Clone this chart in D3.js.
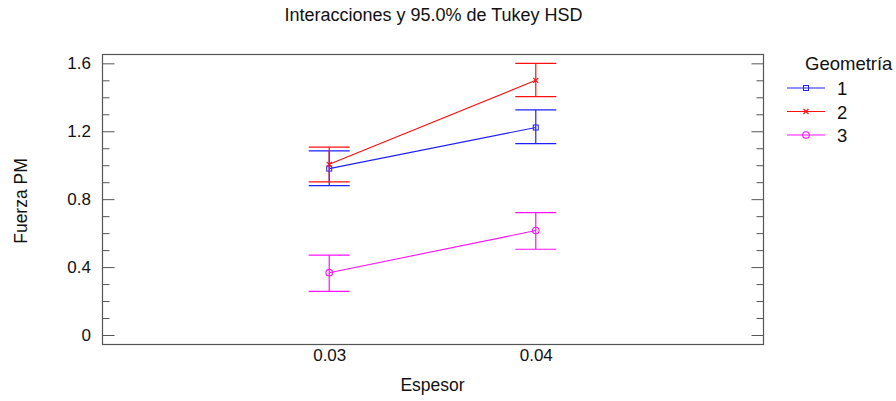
<!DOCTYPE html>
<html><head><meta charset="utf-8">
<script src="https://cdn.jsdelivr.net/npm/d3@7"></script>
<style>
html,body{margin:0;padding:0;background:#fff;}
svg{display:block;font-family:"Liberation Sans",Arial,sans-serif;}
</style></head>
<body>
<svg id="chart" width="896" height="401"></svg>
<script>
const title = "Interacciones y 95.0% de Tukey HSD";
const xLabel = "Espesor";
const yLabel = "Fuerza PM";
const legendTitle = "Geometría";
const espesor = [0.03, 0.04];
const xTickLabels = ["0.03", "0.04"];
const yTicks = [0, 0.4, 0.8, 1.2, 1.6];
const yTickLabels = ["0", "0.4", "0.8", "1.2", "1.6"];
const geometria = ["1", "2", "3"];
const means1 = [0.980, 1.222];
const lower1 = [0.880, 1.127];
const upper1 = [1.084, 1.326];
const means2 = [1.005, 1.500];
const lower2 = [0.902, 1.404];
const upper2 = [1.106, 1.600];
const means3 = [0.367, 0.615];
const lower3 = [0.257, 0.505];
const upper3 = [0.471, 0.721];

const series = [
  {name: geometria[0], mean: means1, lo: lower1, hi: upper1, color: "#2020ff", shape: "square"},
  {name: geometria[1], mean: means2, lo: lower2, hi: upper2, color: "#ff1010", shape: "cross"},
  {name: geometria[2], mean: means3, lo: lower3, hi: upper3, color: "#ff10ff", shape: "circle"}
];

const L = 102, R = 763, T = 54, B = 344;
const svg = d3.select("#chart");
const x = d3.scaleLinear().domain([0.019, 0.051]).range([L, R]);
const y = d3.scaleLinear().domain([-0.053, 1.655]).range([B, T]);
const axisColor = "#555";
const fs = 17;

// title
svg.append("text").attr("x", (L + R) / 2 + 1).attr("y", 21).attr("text-anchor", "middle")
  .attr("font-size", 18).attr("fill", "#111").text(title);

// frame
svg.append("rect").attr("x", L + 0.5).attr("y", T + 0.5).attr("width", R - L).attr("height", B - T)
  .attr("fill", "none").attr("stroke", axisColor).attr("stroke-width", 1.2);

// y axes (left and right) with inward ticks
const minor = d3.range(0, 16.5, 1).map(d => d / 10).filter(d => !yTicks.some(t => Math.abs(t - d) < 1e-9));
const leftMajor = d3.axisRight(y).tickValues(yTicks).tickSize(12).tickFormat("");
const leftMinor = d3.axisRight(y).tickValues(minor).tickSize(7).tickFormat("");
const rightMajor = d3.axisLeft(y).tickValues(yTicks).tickSize(12).tickFormat("");
const rightMinor = d3.axisLeft(y).tickValues(minor).tickSize(7).tickFormat("");
[[leftMajor, L + 0.5], [leftMinor, L + 0.5], [rightMajor, R + 0.5], [rightMinor, R + 0.5]].forEach(([ax, tx]) => {
  const g = svg.append("g").attr("transform", `translate(${tx},0)`).call(ax);
  g.select(".domain").remove();
  g.selectAll("line").attr("stroke", axisColor);
});

// y tick labels
const yl = d3.axisLeft(y).tickValues(yTicks).tickSize(0).tickPadding(0)
  .tickFormat((d, i) => yTickLabels[i]);
const gyl = svg.append("g").attr("transform", `translate(${L - 11},0)`).call(yl);
gyl.select(".domain").remove();
gyl.selectAll("text").attr("font-size", fs).attr("font-family", "Liberation Sans, Arial, sans-serif").attr("fill", "#111");

// x tick labels
const xl = d3.axisBottom(x).tickValues(espesor).tickSize(0).tickPadding(0)
  .tickFormat((d, i) => xTickLabels[i]);
const gxl = svg.append("g").attr("transform", `translate(0,${B + 5})`).call(xl);
gxl.select(".domain").remove();
gxl.selectAll("text").attr("font-size", fs).attr("font-family", "Liberation Sans, Arial, sans-serif").attr("fill", "#111");

// axis titles
svg.append("text").attr("x", (L + R) / 2).attr("y", 391).attr("text-anchor", "middle")
  .attr("font-size", 17.5).attr("fill", "#111").text(xLabel);
svg.append("text").attr("transform", `translate(27,${(T + B) / 2 + 2}) rotate(-90)`).attr("text-anchor", "middle")
  .attr("font-size", 17.5).attr("fill", "#111").text(yLabel);

function marker(g, shape, cx, cy, color) {
  if (shape === "square") {
    g.append("rect").attr("x", cx - 2.5).attr("y", cy - 2.5).attr("width", 5).attr("height", 5)
      .attr("fill", "none").attr("stroke", color).attr("stroke-width", 1);
  } else if (shape === "cross") {
    g.append("path").attr("d", `M${cx-2.5},${cy-2.5}L${cx+2.5},${cy+2.5}M${cx-2.5},${cy+2.5}L${cx+2.5},${cy-2.5}`)
      .attr("stroke", color).attr("stroke-width", 1.2);
  } else {
    g.append("circle").attr("cx", cx).attr("cy", cy).attr("r", 3.3)
      .attr("fill", "none").attr("stroke", color).attr("stroke-width", 1.1);
  }
}

const capHalf = 20.5;
series.forEach(s => {
  const g = svg.append("g");
  const line = d3.line().x((d, i) => x(espesor[i])).y(d => y(d));
  g.append("path").attr("d", line(s.mean)).attr("fill", "none").attr("stroke", s.color).attr("stroke-width", 1.1);
  espesor.forEach((e, i) => {
    const cx = x(e);
    g.append("line").attr("x1", cx).attr("x2", cx).attr("y1", y(s.lo[i])).attr("y2", y(s.hi[i]))
      .attr("stroke", s.color).attr("stroke-width", 1.2);
    [s.lo[i], s.hi[i]].forEach(v => {
      g.append("line").attr("x1", cx - capHalf).attr("x2", cx + capHalf).attr("y1", y(v)).attr("y2", y(v))
        .attr("stroke", s.color).attr("stroke-width", 1.2);
    });
    marker(g, s.shape, cx, y(s.mean[i]), s.color);
  });
});

// legend
const lg = svg.append("g");
lg.append("text").attr("x", 805).attr("y", 70).attr("font-size", 18.5).attr("fill", "#111").text(legendTitle);
series.forEach((s, i) => {
  const ly = 88 + i * 23.5;
  lg.append("line").attr("x1", 787).attr("x2", 825).attr("y1", ly).attr("y2", ly)
    .attr("stroke", s.color).attr("stroke-width", 1.1);
  marker(lg, s.shape, 806, ly, s.color);
  lg.append("text").attr("x", 837).attr("y", ly + 7).attr("font-size", 18.5).attr("fill", "#111").text(s.name);
});
</script>
</body></html>
